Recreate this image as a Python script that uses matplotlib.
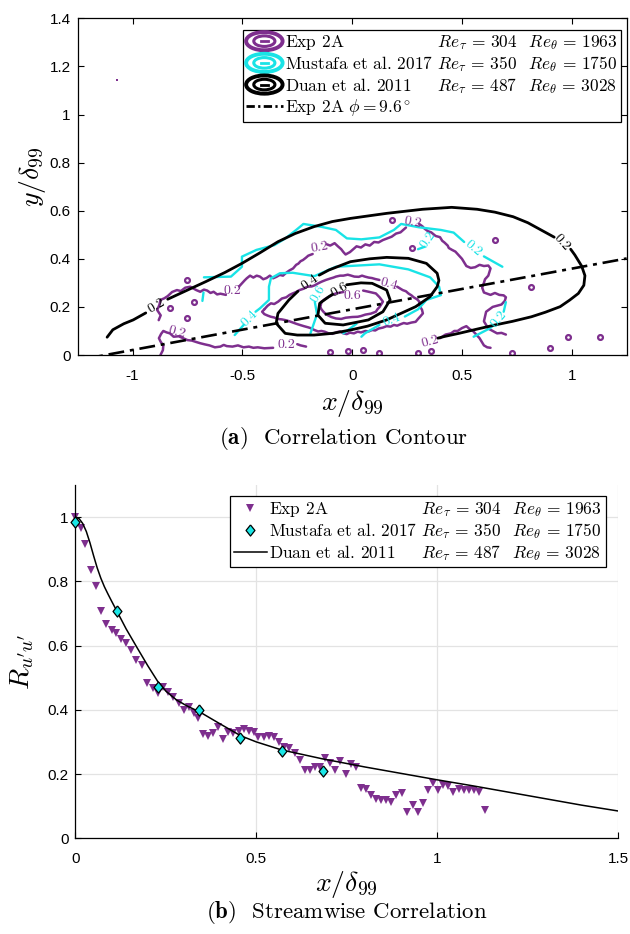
import matplotlib
matplotlib.use("Agg")
import numpy as np
import matplotlib.pyplot as plt
from matplotlib.lines import Line2D
from matplotlib.patches import Ellipse
from matplotlib.legend_handler import HandlerBase

PURPLE = "#7E2F8E"
CYAN = "#19E3E6"
SERIF = "cmr10"
SANS = "Liberation Sans"
LEG_FS = 12.5

plt.rcParams["mathtext.fontset"] = "cm"
plt.rcParams["axes.unicode_minus"] = False
plt.rcParams["font.family"] = SANS

# ---------------- data ----------------
names = ["Exp 2A", "Mustafa et al. 2017", "Duan et al. 2011"]
re_tau = [304, 350, 487]
re_theta = [1963, 1750, 3028]
phi_deg = 9.6
y_ref = 0.19

# Duan et al. 2011 contour levels (smooth DNS field)
duan_02 = [(-1.116, 0.074), (-1.09, 0.105), (-1.04, 0.13), (-0.997, 0.146), (-0.94, 0.175)]
duan_02b = [(-0.84, 0.232), (-0.75, 0.27), (-0.667, 0.305), (-0.58, 0.343), (-0.502, 0.381),
            (-0.42, 0.425), (-0.338, 0.471), (-0.26, 0.505), (-0.173, 0.534), (-0.09, 0.555),
            (-0.008, 0.568), (0.157, 0.589), (0.321, 0.606), (0.453, 0.614), (0.569, 0.606),
            (0.65, 0.594), (0.733, 0.575), (0.80, 0.55), (0.88, 0.51), (0.92, 0.49)]
duan_02c = [(0.995, 0.44), (1.014, 0.416), (1.045, 0.37), (1.06, 0.33), (1.055, 0.29),
            (1.03, 0.256), (0.99, 0.228), (0.947, 0.201), (0.88, 0.178), (0.816, 0.159),
            (0.73, 0.14), (0.651, 0.125), (0.57, 0.108), (0.486, 0.09), (0.42, 0.077), (0.39, 0.07)]
duan_04 = [(-0.15, 0.332), (-0.107, 0.353), (-0.008, 0.388), (0.08, 0.40), (0.157, 0.406),
           (0.256, 0.402), (0.338, 0.381), (0.387, 0.34), (0.395, 0.31), (0.387, 0.284),
           (0.354, 0.242), (0.289, 0.201), (0.157, 0.146), (0.07, 0.12), (-0.008, 0.104),
           (-0.09, 0.09), (-0.173, 0.083), (-0.25, 0.083), (-0.305, 0.09), (-0.346, 0.132),
           (-0.338, 0.173), (-0.288, 0.229), (-0.247, 0.265)]
duan_06 = [(-0.025, 0.292), (0.04, 0.30), (0.091, 0.298), (0.157, 0.27), (0.173, 0.229),
           (0.14, 0.18), (0.074, 0.146), (-0.041, 0.125), (-0.123, 0.132), (-0.156, 0.166),
           (-0.148, 0.215), (-0.107, 0.242), (-0.09, 0.252)]

# Mustafa et al. 2017 contour levels (coarse grid)
mus_02 = [(-0.675, 0.323), (-0.552, 0.326), (-0.502, 0.367), (-0.502, 0.409), (-0.436, 0.437),
          (-0.354, 0.457), (-0.304, 0.485), (-0.255, 0.52), (-0.222, 0.545), (-0.14, 0.533),
          (-0.074, 0.52), (-0.024, 0.485), (0.042, 0.481), (0.124, 0.489), (0.19, 0.52),
          (0.223, 0.545), (0.305, 0.531), (0.404, 0.52), (0.462, 0.509), (0.51, 0.47)]
mus_02b = [(0.60, 0.41), (0.684, 0.367)]
mus_02c = [(-0.677, 0.26), (-0.682, 0.225)]
mus_02d = [(0.553, 0.076), (0.627, 0.111), (0.645, 0.125)]
mus_02e = [(0.69, 0.18), (0.70, 0.22)]
mus_02f = [(0.30, 0.44), (0.33, 0.45)]
mus_04 = [(-0.535, 0.083), (-0.494, 0.125)]
mus_04b = [(-0.44, 0.18), (-0.42, 0.194), (-0.379, 0.229), (-0.379, 0.284), (-0.37, 0.319),
           (-0.329, 0.34), (-0.271, 0.342), (-0.172, 0.328), (-0.074, 0.367), (0.124, 0.377),
           (0.256, 0.356), (0.355, 0.323), (0.396, 0.284), (0.404, 0.249), (0.338, 0.229),
           (0.30, 0.19), (0.24, 0.16)]
mus_04c = [(0.124, 0.125), (0.058, 0.09), (0.042, 0.076)]
mus_06 = [(-0.17, 0.22), (-0.16, 0.17), (-0.19, 0.09)]
mus_06b = [(-0.04, 0.09), (0.02, 0.13)]

# Exp 2A contour levels (PIV, noisy)
exp_02a = [(-0.881, 0.145), (-0.872, 0.165), (-0.888, 0.187), (-0.878, 0.208), (-0.873, 0.229),
           (-0.855, 0.236), (-0.84, 0.245), (-0.82, 0.262), (-0.798, 0.27), (-0.78, 0.266),
           (-0.76, 0.28), (-0.737, 0.284), (-0.72, 0.275), (-0.71, 0.27), (-0.692, 0.263),
           (-0.675, 0.272), (-0.66, 0.268), (-0.645, 0.258), (-0.631, 0.263), (-0.615, 0.252),
           (-0.60, 0.255), (-0.575, 0.25)]
exp_02b = [(-0.515, 0.285), (-0.50, 0.30), (-0.49, 0.31), (-0.48, 0.319), (-0.465, 0.33),
           (-0.45, 0.322), (-0.435, 0.33), (-0.42, 0.326), (-0.405, 0.315), (-0.39, 0.32),
           (-0.375, 0.33), (-0.36, 0.319), (-0.345, 0.325), (-0.33, 0.333), (-0.315, 0.33),
           (-0.299, 0.343), (-0.285, 0.352), (-0.269, 0.36), (-0.255, 0.375), (-0.245, 0.38),
           (-0.235, 0.39), (-0.224, 0.395), (-0.21, 0.405), (-0.20, 0.413), (-0.18, 0.42)]
exp_02c = [(-0.115, 0.46), (-0.10, 0.455), (-0.08, 0.465), (-0.065, 0.452), (-0.05, 0.44),
           (-0.04, 0.428), (-0.03, 0.418), (-0.01, 0.428), (0.005, 0.44), (0.02, 0.452),
           (0.04, 0.447), (0.06, 0.46), (0.08, 0.455), (0.10, 0.47), (0.12, 0.468),
           (0.14, 0.478), (0.16, 0.485), (0.18, 0.492), (0.20, 0.505), (0.22, 0.51),
           (0.235, 0.522), (0.245, 0.53)]
exp_02d = [(0.305, 0.545), (0.32, 0.535), (0.33, 0.525), (0.345, 0.515), (0.36, 0.51),
           (0.38, 0.495), (0.40, 0.49), (0.41, 0.475), (0.42, 0.468), (0.435, 0.455),
           (0.44, 0.445), (0.455, 0.437), (0.47, 0.43), (0.485, 0.415), (0.50, 0.40),
           (0.51, 0.385), (0.52, 0.37), (0.54, 0.362), (0.56, 0.365), (0.58, 0.375),
           (0.60, 0.37), (0.62, 0.372), (0.63, 0.36), (0.625, 0.345), (0.62, 0.33),
           (0.605, 0.315), (0.60, 0.30), (0.592, 0.28), (0.60, 0.26), (0.615, 0.255),
           (0.63, 0.25), (0.65, 0.258), (0.67, 0.25), (0.69, 0.248), (0.70, 0.24),
           (0.695, 0.225), (0.68, 0.21), (0.66, 0.205), (0.64, 0.20), (0.625, 0.19),
           (0.61, 0.18), (0.605, 0.16), (0.60, 0.14), (0.61, 0.125), (0.62, 0.11),
           (0.64, 0.1), (0.66, 0.09), (0.68, 0.092), (0.70, 0.085)]
exp_02e = [(-0.873, 0.0), (-0.862, 0.02), (-0.86, 0.04), (-0.872, 0.055), (-0.88, 0.07),
           (-0.87, 0.088), (-0.86, 0.10), (-0.845, 0.094), (-0.83, 0.09), (-0.813, 0.076),
           (-0.79, 0.078), (-0.77, 0.07), (-0.75, 0.062), (-0.73, 0.06), (-0.71, 0.054),
           (-0.692, 0.049), (-0.67, 0.044), (-0.65, 0.04), (-0.625, 0.032), (-0.60, 0.035),
           (-0.585, 0.042), (-0.571, 0.037), (-0.545, 0.035), (-0.52, 0.04), (-0.495, 0.032),
           (-0.47, 0.035), (-0.45, 0.03), (-0.43, 0.032), (-0.40, 0.028), (-0.36, 0.03)]
exp_02f = [(-0.25, 0.045), (-0.235, 0.04), (-0.21, 0.035)]
exp_02g = [(0.40, 0.07), (0.425, 0.085), (0.45, 0.09), (0.465, 0.1), (0.48, 0.10),
           (0.50, 0.112), (0.52, 0.12), (0.535, 0.108), (0.55, 0.10), (0.565, 0.085),
           (0.58, 0.07), (0.59, 0.055), (0.60, 0.04), (0.615, 0.032), (0.63, 0.03)]
exp_04 = [(-0.40, 0.19), (-0.385, 0.205), (-0.37, 0.215), (-0.355, 0.212), (-0.337, 0.222),
          (-0.32, 0.235), (-0.30, 0.24), (-0.285, 0.25), (-0.271, 0.256), (-0.255, 0.262),
          (-0.24, 0.27), (-0.22, 0.276), (-0.205, 0.284), (-0.185, 0.285), (-0.17, 0.29),
          (-0.155, 0.298), (-0.139, 0.305), (-0.12, 0.312), (-0.10, 0.318), (-0.085, 0.322),
          (-0.074, 0.326), (-0.055, 0.33), (-0.04, 0.33), (-0.02, 0.334), (-0.008, 0.331),
          (0.01, 0.326), (0.03, 0.325), (0.045, 0.33), (0.058, 0.326), (0.075, 0.322),
          (0.09, 0.32), (0.105, 0.316), (0.124, 0.312)]
exp_04b = [(0.205, 0.284), (0.23, 0.27), (0.245, 0.265), (0.256, 0.256), (0.27, 0.248),
           (0.28, 0.24), (0.295, 0.232), (0.306, 0.222), (0.305, 0.21), (0.31, 0.2),
           (0.318, 0.188), (0.322, 0.173), (0.31, 0.16), (0.30, 0.15), (0.289, 0.138),
           (0.27, 0.135), (0.25, 0.13), (0.235, 0.133), (0.223, 0.129), (0.205, 0.122),
           (0.19, 0.125), (0.175, 0.118), (0.157, 0.12), (0.14, 0.114), (0.12, 0.11),
           (0.105, 0.102), (0.091, 0.104), (0.075, 0.098), (0.06, 0.1), (0.04, 0.094),
           (0.025, 0.097), (0.008, 0.09), (-0.01, 0.093), (-0.025, 0.087), (-0.04, 0.09),
           (-0.055, 0.098), (-0.07, 0.095), (-0.09, 0.088), (-0.107, 0.09), (-0.125, 0.097),
           (-0.14, 0.1), (-0.155, 0.098), (-0.172, 0.104), (-0.19, 0.112), (-0.2, 0.115),
           (-0.22, 0.12), (-0.238, 0.125), (-0.255, 0.13), (-0.27, 0.135), (-0.285, 0.14),
           (-0.304, 0.145), (-0.32, 0.148), (-0.34, 0.15), (-0.355, 0.156), (-0.37, 0.159),
           (-0.385, 0.164), (-0.40, 0.17), (-0.41, 0.18), (-0.40, 0.19)]
exp_06 = [(-0.139, 0.222), (-0.125, 0.232), (-0.11, 0.24), (-0.09, 0.25), (-0.074, 0.256),
          (-0.04, 0.262)]
exp_06b = [(0.05, 0.268), (0.08, 0.262), (0.108, 0.256), (0.125, 0.24), (0.14, 0.222),
           (0.132, 0.21), (0.125, 0.2), (0.115, 0.19), (0.108, 0.18), (0.085, 0.172),
           (0.06, 0.168), (0.04, 0.162), (0.025, 0.159), (0.0, 0.158), (-0.03, 0.155),
           (-0.05, 0.15), (-0.074, 0.152), (-0.095, 0.158), (-0.11, 0.165), (-0.122, 0.172),
           (-0.131, 0.18), (-0.14, 0.19), (-0.145, 0.2), (-0.142, 0.212), (-0.139, 0.222)]
exp_blobs_x = [-0.752, -0.722, -0.752, -0.828, 0.182, 0.272, 0.652, 0.816, 0.981,
               1.13, -0.02, 0.05, 0.12, 0.3, 0.36, 0.73, 0.9, -0.1]
exp_blobs_y = [0.312, 0.222, 0.152, 0.194, 0.561, 0.443, 0.478, 0.284, 0.076,
               0.076, 0.015, 0.02, 0.01, 0.01, 0.015, 0.01, 0.03, 0.012]
exp_speck = (-1.069, 1.143)

# (b) streamwise correlation
x_exp = [0.0, 0.0145, 0.0275, 0.0426, 0.0567, 0.0707, 0.0848, 0.0999, 0.113, 0.126,
         0.140, 0.153, 0.168, 0.183, 0.198, 0.213, 0.227, 0.242, 0.255, 0.271,
         0.285, 0.300, 0.315, 0.328, 0.340, 0.353, 0.366, 0.379, 0.393, 0.408,
         0.422, 0.436, 0.451, 0.465, 0.479, 0.493, 0.506, 0.520, 0.535, 0.549,
         0.563, 0.577, 0.591, 0.606, 0.620, 0.634, 0.648, 0.662, 0.676, 0.690,
         0.704, 0.718, 0.732, 0.747, 0.761, 0.775, 0.789, 0.803, 0.817, 0.831,
         0.845, 0.859, 0.873, 0.887, 0.903, 0.917, 0.932, 0.946, 0.960, 0.975,
         0.989, 1.003, 1.017, 1.031, 1.045, 1.060, 1.074, 1.088, 1.103, 1.117, 1.131]
r_exp = [1.0, 0.966, 0.916, 0.834, 0.786, 0.706, 0.668, 0.647, 0.638, 0.620,
         0.607, 0.587, 0.555, 0.540, 0.483, 0.467, 0.452, 0.472, 0.455, 0.441,
         0.420, 0.400, 0.410, 0.389, 0.374, 0.325, 0.319, 0.327, 0.346, 0.308,
         0.332, 0.329, 0.333, 0.339, 0.335, 0.330, 0.316, 0.315, 0.319, 0.316,
         0.301, 0.285, 0.280, 0.266, 0.243, 0.214, 0.214, 0.223, 0.223, 0.249,
         0.233, 0.214, 0.239, 0.200, 0.232, 0.221, 0.156, 0.153, 0.135, 0.123,
         0.119, 0.119, 0.114, 0.135, 0.140, 0.083, 0.104, 0.081, 0.109, 0.151,
         0.172, 0.151, 0.166, 0.163, 0.145, 0.153, 0.151, 0.151, 0.149, 0.145, 0.088]
x_mus = [0.0, 0.114, 0.228, 0.342, 0.456, 0.570, 0.684]
r_mus = [0.986, 0.708, 0.472, 0.398, 0.312, 0.272, 0.208]
x_duan = [0.0, 0.01, 0.02, 0.03, 0.04, 0.05, 0.06, 0.07, 0.08, 0.09, 0.10, 0.115, 0.14,
          0.17, 0.20, 0.227, 0.25, 0.28, 0.31, 0.344, 0.40, 0.457, 0.50, 0.57, 0.684,
          0.80, 0.90, 1.0, 1.1, 1.2, 1.3, 1.4, 1.5]
r_duan = [1.0, 0.995, 0.98, 0.955, 0.92, 0.88, 0.842, 0.81, 0.783, 0.76, 0.738, 0.706, 0.652,
          0.594, 0.537, 0.489, 0.458, 0.43, 0.411, 0.393, 0.356, 0.319, 0.30, 0.275, 0.247,
          0.222, 0.202, 0.182, 0.163, 0.143, 0.123, 0.103, 0.085]


class ContourKey:
    def __init__(self, color):
        self.color = color


class ContourKeyHandler(HandlerBase):
    # concentric rings, like the contour icon of the plotting package
    def create_artists(self, legend, orig_handle, xdescent, ydescent, width, height,
                       fontsize, trans):
        cx = 0.5 * width - xdescent
        cy = 0.5 * height - ydescent
        c = orig_handle.color
        arts = []
        for f, lw in [(1.0, 2.8), (0.58, 2.2)]:
            e = Ellipse((cx, cy), width * f, height * 1.5 * f, fill=False, ec=c,
                        lw=lw, transform=trans)
            arts.append(e)
        arts.append(Line2D([cx - 0.1 * width, cx + 0.1 * width], [cy, cy], color=c,
                           lw=2.0, transform=trans))
        return arts


def re_math(t, th):
    return r"Re_\tau\,=\,%d\;\;\;Re_\theta\,=\,%d" % (t, th)


def text_width(fig, s):
    r = fig.canvas.get_renderer()
    t = fig.text(0, 0, s, family=SERIF, size=LEG_FS)
    w = t.get_window_extent(r).width
    t.remove()
    return w


def aligned_labels(fig, first, second):
    # pad the first column with thin spaces so the Re columns line up
    thin = (text_width(fig, "$" + r"\," * 40 + "R$") - text_width(fig, "$R$")) / 40
    widths = [text_width(fig, s) for s in first]
    wmax = max(widths)
    out = []
    for s, w, m in zip(first, widths, second):
        k = int(round((wmax - w) / thin))
        out.append(s + " $" + r"\," * k + m + "$")
    return out


def path(ax, pts, color, lw=1.7, z=2):
    xs, ys = zip(*pts)
    ax.plot(xs, ys, color=color, lw=lw, zorder=z, solid_capstyle="round",
            solid_joinstyle="round")


def clab(ax, x, y, s, color, rot=0):
    ax.text(x, y, s, color=color, rotation=rot, ha="center", va="center",
            fontsize=10, family=SERIF, rotation_mode="anchor", zorder=5)


fig = plt.figure(figsize=(6.3, 9.34), dpi=100)
row_labels = aligned_labels(fig, names, [re_math(t, th) for t, th in zip(re_tau, re_theta)])

# ---------------- (a) ----------------
ax1 = fig.add_axes([0.1233, 0.6199, 0.8714, 0.3605])

for pts in [exp_02a, exp_02b, exp_02c, exp_02d, exp_02e, exp_02f, exp_02g,
            exp_04, exp_04b, exp_06, exp_06b]:
    path(ax1, pts, PURPLE, lw=1.8)
ax1.plot(exp_blobs_x, exp_blobs_y, "o", ms=3.5, mfc="none", mec=PURPLE, mew=1.6)
ax1.plot(*exp_speck, "s", ms=1.8, color=PURPLE, mew=0)

for pts in [mus_02, mus_02b, mus_02c, mus_02d, mus_02e, mus_02f, mus_04, mus_04b,
            mus_04c, mus_06, mus_06b]:
    path(ax1, pts, CYAN, lw=1.7, z=3)

for pts in [duan_02, duan_02b, duan_02c, duan_04, duan_06]:
    path(ax1, pts, "k", lw=2.0, z=4)

xl = np.array([-1.25, 1.25])
yl = y_ref + np.tan(np.radians(phi_deg)) * xl
ax1.plot(xl, yl, color="k", lw=1.9, ls=(0, (6, 2.2, 1.5, 2.2)), zorder=4)

# inline level labels
clab(ax1, -0.89, 0.205, "0.2", "k", 30)
clab(ax1, 0.955, 0.468, "0.2", "k", -48)
clab(ax1, -0.19, 0.302, "0.4", "k", 35)
clab(ax1, -0.058, 0.272, "0.6", "k", 30)
clab(ax1, -0.545, 0.266, "0.2", PURPLE, 0)
clab(ax1, -0.148, 0.447, "0.2", PURPLE, 10)
clab(ax1, 0.275, 0.55, "0.2", PURPLE, -10)
clab(ax1, -0.8, 0.095, "0.2", PURPLE, -15)
clab(ax1, -0.30, 0.04, "0.2", PURPLE, 0)
clab(ax1, 0.355, 0.055, "0.2", PURPLE, 15)
clab(ax1, 0.165, 0.295, "0.4", PURPLE, -15)
clab(ax1, 0.0, 0.245, "0.6", PURPLE, 0)
clab(ax1, 0.553, 0.443, "0.2", CYAN, -40)
clab(ax1, 0.345, 0.478, "0.2", CYAN, 55)
clab(ax1, 0.67, 0.148, "0.2", CYAN, 50)
clab(ax1, -0.469, 0.152, "0.4", CYAN, 45)
clab(ax1, 0.182, 0.145, "0.4", CYAN, 20)
clab(ax1, -0.156, 0.256, "0.6", CYAN, 60)

ax1.set_xlim(-1.25, 1.25)
ax1.set_ylim(0, 1.4)
ax1.set_xticks([-1, -0.5, 0, 0.5, 1])
ax1.set_yticks(np.arange(0, 1.41, 0.2))
ax1.xaxis.set_major_formatter(lambda v, _: f"{v:g}")
ax1.yaxis.set_major_formatter(lambda v, _: f"{v:g}")
ax1.tick_params(direction="in", length=4, width=0.8, top=True, right=True, labelsize=11)
ax1.tick_params(axis="x", pad=10)
ax1.tick_params(axis="y", pad=5)
for s in ax1.spines.values():
    s.set_linewidth(0.9)

ax1.set_xlabel(r"$x/\delta_{99}$", fontsize=20)
ax1.set_ylabel(r"$y/\delta_{99}$", fontsize=20)
ax1.xaxis.set_label_coords(0.5, -0.143)
ax1.xaxis.label.set_va("center")
ax1.yaxis.set_label_coords(-0.083, 0.53)
ax1.yaxis.label.set_va("center")

keys = [ContourKey(PURPLE), ContourKey(CYAN), ContourKey("k"),
        Line2D([], [], color="k", lw=2.0, ls=(0, (3, 1.2, 0.8, 1.2)))]
labels1 = row_labels + [r"Exp 2A $\phi = 9.6^\circ$"]
leg1 = ax1.legend(keys, labels1, loc="upper left",
                  bbox_to_anchor=(0.3005, 0.966), borderaxespad=0,
                  handler_map={ContourKey: ContourKeyHandler()},
                  prop={"family": SERIF, "size": LEG_FS}, handlelength=2.1,
                  handletextpad=0.12, labelspacing=0.1,
                  borderpad=0.2, fancybox=False, framealpha=1, edgecolor="k")
leg1.get_frame().set_linewidth(0.9)

fig.text(0.545, 1 - 438 / 934, r"$\mathbf{(a)}$  Correlation Contour", ha="center",
         va="center", fontsize=16.5, family=SERIF)

# ---------------- (b) ----------------
ax2 = fig.add_axes([0.1198, 0.1025, 0.8611, 0.3783])
ax2.grid(True, color="#E3E3E3", lw=0.9)
ax2.set_axisbelow(True)
diamond = [(0, 1), (0.8, 0), (0, -1), (-0.8, 0), (0, 1)]
ax2.plot(x_exp, r_exp, "v", color=PURPLE, ms=5.5, mew=0, zorder=2, clip_on=False,
         label=row_labels[0])
ax2.plot(x_mus, r_mus, ls="none", marker=diamond, ms=8, mfc="#1AE6E6", mec="k",
         mew=0.9, zorder=4, clip_on=False, label=row_labels[1])
ax2.plot(x_duan, r_duan, color="k", lw=1.1, zorder=3, label=row_labels[2])

ax2.set_xlim(0, 1.5)
ax2.set_ylim(0, 1.1)
ax2.set_xticks([0, 0.5, 1, 1.5])
ax2.set_yticks(np.arange(0, 1.01, 0.2))
ax2.xaxis.set_major_formatter(lambda v, _: f"{v:g}")
ax2.yaxis.set_major_formatter(lambda v, _: f"{v:g}")
ax2.tick_params(direction="in", length=4, width=0.8, labelsize=11)
ax2.tick_params(axis="x", pad=10)
ax2.tick_params(axis="y", pad=5)
ax2.spines["top"].set_visible(False)
ax2.spines["right"].set_visible(False)
for s in ax2.spines.values():
    s.set_linewidth(0.9)

ax2.set_xlabel(r"$x/\delta_{99}$", fontsize=20)
ax2.set_ylabel(r"$R_{u'u'}$", fontsize=20)
ax2.xaxis.set_label_coords(0.5, -0.132)
ax2.xaxis.label.set_va("center")
ax2.yaxis.set_label_coords(-0.099, 0.5)
ax2.yaxis.label.set_va("center")

leg2 = ax2.legend(loc="upper left", bbox_to_anchor=(0.2844, 0.969), borderaxespad=0,
                  prop={"family": SERIF, "size": LEG_FS}, handlelength=1.9,
                  handletextpad=0.15, labelspacing=0.12,
                  borderpad=0.22, fancybox=False, framealpha=1, edgecolor="k",
                  numpoints=1)
leg2.get_frame().set_linewidth(0.9)

fig.text(0.55, 1 - 913 / 934, r"$\mathbf{(b)}$  Streamwise Correlation", ha="center",
         va="center", fontsize=16.5, family=SERIF)

fig.savefig("out.png", dpi=100)
